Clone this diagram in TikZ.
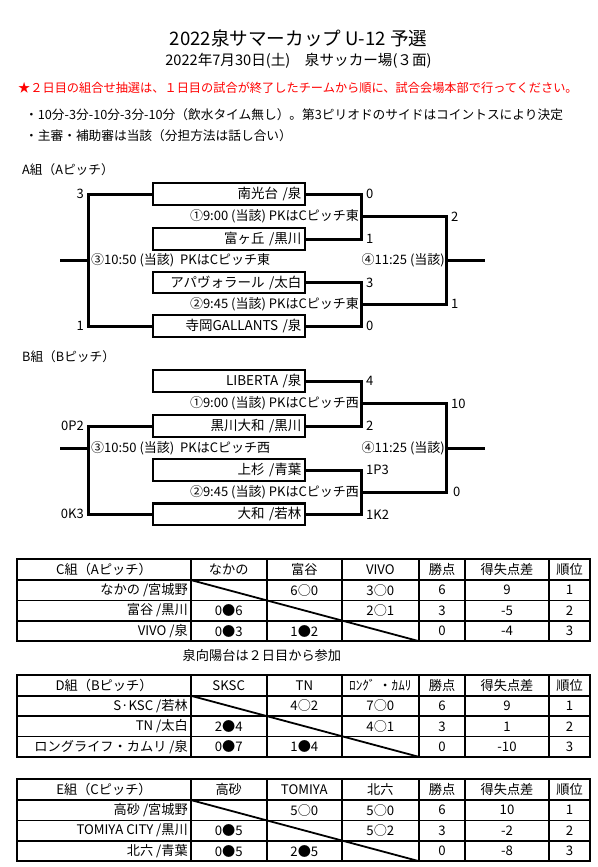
\documentclass[tikz,border=0pt]{standalone}
\usepackage{fontspec}
\setmainfont{Noto Sans CJK JP}
\newcommand\fsz[1]{\fontsize{#1}{#1}\selectfont}
\newcommand\tgrid[1]{%
 \begin{scope}[shift={(0,#1)}]
  \draw[outer] (17.3,0) rectangle (590.3,81.8);
  \foreach \x in {190.7,266.7,342,418.7,465.3,548.7} \draw[grid] (\x,0) -- (\x,81.8);
  \foreach \y in {20.7,41.1,61.5} \draw[grid] (17.3,\y) -- (590.3,\y);
  \coordinate (d0) at (190.7,20.7);
  \coordinate (d1) at (418.7,81.8);
  \draw[grid] (d0) -- (d1);
 \end{scope}}
% #1 prefix, #2 top, #3..#9 header cells
\newcommand\thead[9]{%
 \begin{scope}[shift={(0,#2)}]
  \node[ttx] (#1h0) at (104,10.35) {#3};
  \node[ttx] (#1h1) at (228.7,10.35) {#4};
  \node[ttx] (#1h2) at (304.35,10.35) {#5};
  \node[ttx] (#1h3) at (380.35,10.35) {#6};
  \node[ttx] (#1h4) at (442,10.35) {#7};
  \node[ttx] (#1h5) at (507,10.35) {#8};
  \node[ttx] (#1h6) at (569.5,10.35) {#9};
 \end{scope}}
% #1 name, #2 abs y, #3 team, #4 c1, #5 c2, #6 c3, #7 pts, #8 diff, #9 rank
\newcommand\trow[9]{%
  \node[ttx,anchor=east] (#1n) at (188,#2) {#3};
  \node[ttx] (#1a) at (228.7,#2) {#4};
  \node[ttx] (#1b) at (304.35,#2) {#5};
  \node[ttx] (#1c) at (380.35,#2) {#6};
  \node[ttx] (#1p) at (442,#2) {#7};
  \node[ttx] (#1d) at (507,#2) {#8};
  \node[ttx] (#1r) at (569.5,#2) {#9};}
\begin{document}
\begin{tikzpicture}[x=1pt,y=-1pt,
  txt/.style={inner sep=0, font=\fsz{12.7}},
  btx/.style={inner sep=0, font=\fsz{13}},
  ttx/.style={inner sep=0, font=\fsz{13.2}},
  team/.style={draw, line width=2.4, minimum width=152, minimum height=21.5, inner xsep=3.5, inner ysep=0, text width=145, align=right, font=\fsz{13.5}},
  br/.style={line width=3},
  grid/.style={line width=1.8},
  outer/.style={line width=2.2}]
\useasboundingbox (0,0) rectangle (597,867);
\fill[white] (0,0) rectangle (597,867);

% header
\node[txt, font=\fsz{18.6}] (title) at (298.5,38) {2022泉サマーカップ U-12 予選};
\node[txt, font=\fsz{14.6}] (date) at (298.5,61) {2022年7月30日(土)　泉サッカー場(３面)};
\node[txt, anchor=west, text=red, font=\fsz{12.2}] (note) at (18,88) {★２日目の組合せ抽選は、１日目の試合が終了したチームから順に、試合会場本部で行ってください。};
\node[txt, anchor=west] (bul1) at (25,115) {・10分-3分-10分-3分-10分（飲水タイム無し）。第3ピリオドのサイドはコイントスにより決定};
\node[txt, anchor=west] (bul2) at (25,136) {・主審・補助審は当該（分担方法は話し合い）};

% ---------- A group
\node[txt, anchor=west] (ga) at (22,170) {A組（Aピッチ）};
\node[team] (a1) at (229,194) {南光台 /泉};
\node[team] (a2) at (229,239) {富ヶ丘 /黒川};
\node[team] (a3) at (229,282.5) {アパヴォラール /太白};
\node[team] (a4) at (229,326) {寺岡GALLANTS /泉};
\coordinate (aj1) at (361.7,216.5);
\coordinate (aj2) at (361.7,304.25);
\coordinate (aj3) at (88,260.4);
\coordinate (aj4) at (446.7,260.4);
\coordinate (aoL) at (60,260.4);
\coordinate (aoR) at (485,260.4);
\draw[br] (a1.east) -| (aj1) |- (a2.east);
\draw[br] (a3.east) -| (aj2) |- (a4.east);
\draw[br] (aj1) -| (aj4) |- (aj2);
\draw[br] (aj4) -- (aoR);
\draw[br] (a1.west) -| (aj3) |- (a4.west);
\draw[br] (aj3) -- (aoL);
\node[btx, anchor=west] (as1) at (366,194) {0};
\node[btx, anchor=west] (as2) at (366,239) {1};
\node[btx, anchor=west] (as3) at (366,282.5) {3};
\node[btx, anchor=west] (as4) at (366,326) {0};
\node[btx, anchor=west] (as5) at (451,216.5) {2};
\node[btx, anchor=west] (as6) at (451,304.25) {1};
\node[btx, anchor=east] (as7) at (84,194) {3};
\node[btx, anchor=east] (as8) at (84,326) {1};
\node[btx, anchor=east] (am1) at (359,216.5) {①9:00 (当該) PKはCピッチ東};
\node[btx, anchor=east] (am2) at (359,304.25) {②9:45 (当該) PKはCピッチ東};
\node[btx, anchor=west] (am3) at (91,260.4) {③10:50 (当該)~~PKはCピッチ東};
\node[btx, anchor=east] (am4) at (445,260.4) {④11:25 (当該)};

% ---------- B group
\node[txt, anchor=west] (gb) at (22,357) {B組（Bピッチ）};
\node[team] (b1) at (229,381) {LIBERTA /泉};
\node[team] (b2) at (229,426) {黒川大和 /黒川};
\node[team] (b3) at (229,470) {上杉 /青葉};
\node[team] (b4) at (229,514.3) {大和 /若林};
\coordinate (bj1) at (361.7,403.5);
\coordinate (bj2) at (361.7,492.15);
\coordinate (bj3) at (88,448.3);
\coordinate (bj4) at (446.7,448.3);
\coordinate (boL) at (60,448.3);
\coordinate (boR) at (485,448.3);
\draw[br] (b1.east) -| (bj1) |- (b2.east);
\draw[br] (b3.east) -| (bj2) |- (b4.east);
\draw[br] (bj1) -| (bj4) |- (bj2);
\draw[br] (bj4) -- (boR);
\draw[br] (b2.west) -| (bj3) |- (b4.west);
\draw[br] (bj3) -- (boL);
\node[btx, anchor=west] (bs1) at (366,381) {4};
\node[btx, anchor=west] (bs2) at (366,426) {2};
\node[btx, anchor=west] (bs3) at (366,470) {1P3};
\node[btx, anchor=west] (bs4) at (366,514.3) {1K2};
\node[btx, anchor=west] (bs5) at (451,403.5) {10};
\node[btx, anchor=west] (bs6) at (453,492.15) {0};
\node[btx, anchor=east] (bs7) at (84,426) {0P2};
\node[btx, anchor=east] (bs8) at (84,514.3) {0K3};
\node[btx, anchor=east] (bm1) at (359,403.5) {①9:00 (当該) PKはCピッチ西};
\node[btx, anchor=east] (bm2) at (359,492.15) {②9:45 (当該) PKはCピッチ西};
\node[btx, anchor=west] (bm3) at (91,448.3) {③10:50 (当該)~~PKはCピッチ西};
\node[btx, anchor=east] (bm4) at (445,448.3) {④11:25 (当該)};

% ---------- C table
\tgrid{559.3}
\thead{c}{559.3}{C組（Aピッチ）}{なかの}{富谷}{VIVO}{勝点}{得失点差}{順位}
\trow{c1}{590.2}{なかの /宮城野}{}{6○0}{3○0}{6}{9}{1}
\trow{c2}{610.6}{富谷 /黒川}{0●6}{}{2○1}{3}{-5}{2}
\trow{c3}{631}{VIVO /泉}{0●3}{1●2}{}{0}{-4}{3}
\node[ttx, anchor=west] (cnote) at (182.5,655) {泉向陽台は２日目から参加};

% ---------- D table
\tgrid{675}
\thead{d}{675}{D組（Bピッチ）}{SKSC}{TN}{ﾛﾝｸﾞ ・ｶﾑﾘ}{勝点}{得失点差}{順位}
\trow{d1}{705.9}{S·KSC /若林}{}{4○2}{7○0}{6}{9}{1}
\trow{d2}{726.3}{TN /太白}{2●4}{}{4○1}{3}{1}{2}
\trow{d3}{746.7}{ロングライフ・カムリ /泉}{0●7}{1●4}{}{0}{-10}{3}

% ---------- E table
\tgrid{779.3}
\thead{e}{779.3}{E組（Cピッチ）}{高砂}{TOMIYA}{北六}{勝点}{得失点差}{順位}
\trow{e1}{810.2}{高砂 /宮城野}{}{5○0}{5○0}{6}{10}{1}
\trow{e2}{830.6}{TOMIYA CITY /黒川}{0●5}{}{5○2}{3}{-2}{2}
\trow{e3}{851}{北六 /青葉}{0●5}{2●5}{}{0}{-8}{3}
\end{tikzpicture}
\end{document}
